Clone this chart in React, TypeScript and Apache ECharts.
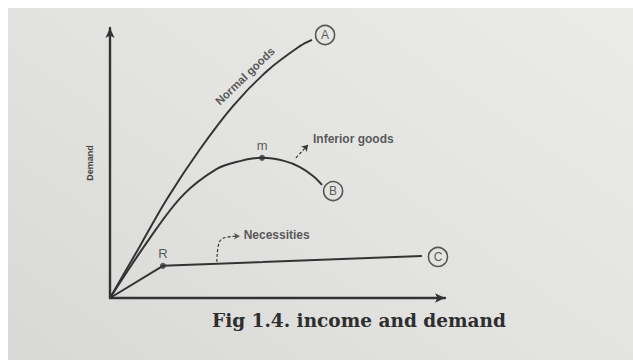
import React, { useEffect, useRef } from "react";
import * as echarts from "echarts";

// Income (x) vs. quantity demanded (y), both on a 0–100 scale
const incomeA = [0, 8.96, 17, 26.9, 36.7, 46.9, 56.7, 60.3];
const demandA = [0, 19.3, 36.7, 55.2, 71.1, 84.1, 93.3, 95.6];

const incomeB = [0, 11.9, 21.8, 31.9, 38.8, 45.4, 52.2, 56.7, 60.6, 63.3];
const demandB = [0, 22.2, 38.1, 47.8, 50.7, 51.9, 50.7, 48.5, 45.2, 41.9];

const incomeC = [0, 15.8, 93.1];
const demandC = [0, 11.9, 15.6];

// Named points on the curves
const pointNames = ["m", "R"];
const pointIncome = [45.4, 15.8];
const pointDemand = [51.9, 11.9];

// Circled curve tags
const tagNames = ["A", "B", "C"];
const tagIncome = [64.2, 66.6, 97.9];
const tagDemand = [97.4, 39.6, 15.2];

// Curved pointer from curve C up to the "Necessities" note
const pointerIncome = [31.9, 32.3, 34.2, 38.2];
const pointerDemand = [13.4, 19.2, 22.3, 22.9];

const captionText = "Fig 1.4. income and demand";
const yAxisTitle = "Demand";

const INK = "#333333";
const FONT = "Liberation Sans, Arial, sans-serif";

const zip = (xs: number[], ys: number[]) => xs.map((x, i) => [x, ys[i]]);

export default function App() {
  const ref = useRef<HTMLDivElement>(null);

  useEffect(() => {
    if (!ref.current) return;
    const chart = echarts.init(ref.current, null, { renderer: "svg" });

    const curveLine = { color: INK, width: 2 };
    const textBase = { fontFamily: FONT, color: INK, textBorderWidth: 0 };
    const lastP = pointerIncome.length - 1;

    chart.setOption({
      animation: false,
      backgroundColor: "transparent",
      title: {
        text: captionText,
        left: 199,
        top: 298,
        padding: 5,
        textStyle: {
          fontFamily: "DejaVu Serif, serif",
          fontWeight: "bold",
          fontSize: 18.5,
          color: "#2e2e2e",
        },
      },
      grid: { left: 102, top: 20, width: 335, height: 270 },
      xAxis: {
        type: "value",
        min: 0,
        max: 100,
        axisLine: {
          show: true,
          symbol: ["none", "arrow"],
          symbolSize: [7, 10],
          lineStyle: { color: INK, width: 2.4 },
        },
        axisTick: { show: false },
        axisLabel: { show: false },
        splitLine: { show: false },
      },
      yAxis: {
        type: "value",
        min: 0,
        max: 100,
        name: yAxisTitle,
        nameLocation: "middle",
        nameGap: 16,
        nameRotate: 90,
        nameTextStyle: { fontFamily: FONT, fontSize: 9, fontWeight: "bold", color: "#444" },
        axisLine: {
          show: true,
          symbol: ["none", "arrow"],
          symbolSize: [7, 10],
          lineStyle: { color: INK, width: 2.4 },
        },
        axisTick: { show: false },
        axisLabel: { show: false },
        splitLine: { show: false },
      },
      series: [
        {
          name: "Normal goods",
          type: "line",
          data: zip(incomeA, demandA),
          smooth: 0.35,
          showSymbol: false,
          lineStyle: curveLine,
        },
        {
          name: "Inferior goods",
          type: "line",
          data: zip(incomeB, demandB),
          smooth: 0.35,
          showSymbol: false,
          lineStyle: curveLine,
          markLine: {
            silent: true,
            symbol: ["none", "arrow"],
            symbolSize: 6,
            label: { show: false },
            lineStyle: { type: [3, 2], color: INK, width: 1.2 },
            data: [[{ coord: [55.5, 51.9] }, { coord: [59.1, 56.7] }]],
          },
        },
        {
          name: "Necessities",
          type: "line",
          data: zip(incomeC, demandC),
          showSymbol: false,
          lineStyle: curveLine,
        },
        {
          type: "line",
          data: zip(pointerIncome, pointerDemand),
          smooth: 0.5,
          showSymbol: false,
          silent: true,
          lineStyle: { type: [3, 2], color: INK, width: 1.2 },
        },
        {
          type: "scatter",
          clip: false,
          silent: true,
          symbol: "arrow",
          symbolSize: [5, 6],
          symbolRotate: -90,
          itemStyle: { color: INK },
          data: [[pointerIncome[lastP] + 0.6, pointerDemand[lastP]]],
        },
        {
          type: "scatter",
          clip: false,
          symbolSize: 6,
          itemStyle: { color: INK },
          label: {
            ...textBase,
            show: true,
            position: "top",
            distance: 3,
            formatter: "{b}",
            fontSize: 13,
          },
          data: pointNames.map((n, i) => ({ name: n, value: [pointIncome[i], pointDemand[i]] })),
        },
        {
          type: "scatter",
          clip: false,
          symbol: "circle",
          symbolSize: 19,
          itemStyle: { color: "rgba(0,0,0,0)", borderColor: INK, borderWidth: 1.6 },
          label: {
            ...textBase,
            show: true,
            position: "inside",
            formatter: "{b}",
            fontSize: 12,
          },
          data: tagNames.map((n, i) => ({ name: n, value: [tagIncome[i], tagDemand[i]] })),
        },
        {
          type: "scatter",
          clip: false,
          symbolSize: 0,
          silent: true,
          label: {
            ...textBase,
            show: true,
            formatter: "{b}",
            fontSize: 12,
            fontWeight: "bold",
          },
          data: [
            {
              name: "Normal goods",
              value: [40.3, 82.2],
              label: {
                position: "inside",
                rotate: 44,
                align: "center",
                verticalAlign: "middle",
                fontSize: 11.5,
              },
            },
            {
              name: "Inferior goods",
              value: [60.6, 58.9],
              label: { position: "right", distance: 0 },
            },
            {
              name: "Necessities",
              value: [39.9, 23.3],
              label: { position: "right", distance: 0 },
            },
          ],
        },
      ],
    });

    return () => chart.dispose();
  }, []);

  return (
    <div
      ref={ref}
      style={{
        position: "fixed",
        left: 8,
        top: 8,
        width: 625,
        height: 352,
        background: "linear-gradient(35deg, #d8d8d6 0%, #e2e2e0 45%, #ebebe9 100%)",
      }}
    />
  );
}
